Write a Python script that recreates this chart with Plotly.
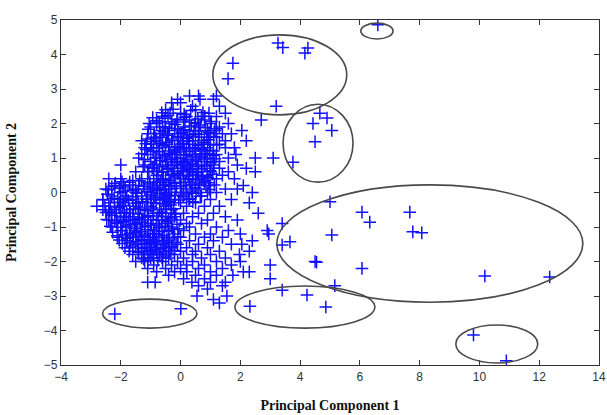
import plotly.graph_objects as go

# Main cluster: rows of (PC2 value, list of PC1 values)
cluster_rows = [
    (2.8, [0.3, 0.6, 1.2]),
    (2.7, [-0.1, 0.65, 1.1]),
    (2.6, [-0.3, 0.0]),
    (2.5, [0.4, 1.3, 3.2]),
    (2.4, [-0.5, 0.5]),
    (2.3, [-0.35, 0.0, 0.95, 1.5]),
    (2.2, [-0.6, 0.2, 0.7, 1.2]),
    (2.1, [-0.1, 0.3, 0.8, 2.7]),
    (2.0, [-0.8, -0.3, 0.5, 1.0, 1.6]),
    (1.9, [-1.0, -0.5, 0.1, 0.6, 1.3]),
    (1.8, [-0.7, -0.2, 0.3, 0.9, 1.15, 2.05]),
    (1.7, [-1.1, -0.4, 0.0, 0.5, 1.0, 1.4, 1.7]),
    (1.6, [-0.9, -0.6, -0.1, 0.2, 0.7, 1.2]),
    (1.5, [-1.3, -0.8, -0.3, 0.1, 0.4, 0.8, 1.5, 2.2]),
    (1.4, [-1.0, -0.5, 0.0, 0.3, 0.6, 1.0, 1.3]),
    (1.3, [-1.2, -0.7, -0.2, 0.2, 0.5, 0.9, 1.5, 1.8]),
    (1.2, [-0.9, -0.4, -0.1, 0.3, 0.7, 1.1]),
    (1.1, [-1.1, -0.6, -0.2, 0.1, 0.4, 0.8, 1.2, 1.85]),
    (1.0, [-1.4, -0.8, -0.3, 0.0, 0.5, 0.9, 1.6, 2.5, 3.1]),
    (0.9, [-1.0, -0.5, -0.1, 0.2, 0.6, 1.0, 1.3]),
    (0.8, [-2.0, -1.2, -0.7, -0.2, 0.1, 0.4, 0.8, 1.1, 1.9]),
    (0.7, [-0.9, -0.4, 0.0, 0.3, 0.7, 1.3, 2.2]),
    (0.6, [-1.5, -1.1, -0.6, -0.1, 0.2, 0.6, 1.0, 1.6, 2.5]),
    (0.5, [-0.8, -0.3, 0.1, 0.5, 0.9, 1.4]),
    (0.4, [-2.4, -2.0, -1.3, -0.9, -0.5, 0.0, 0.4, 0.7, 1.2, 1.8]),
    (0.3, [-1.7, -1.1, -0.6, -0.2, 0.3, 0.8]),
    (0.2, [-2.2, -1.9, -1.4, -0.8, -0.4, 0.1, 0.5, 1.0, 2.1]),
    (0.1, [-2.5, -1.6, -1.2, -0.7, -0.3, 0.2, 0.6, 1.5, 1.9]),
    (0.0, [-2.0, -1.5, -1.0, -0.5, 0.0, 0.4, 0.9, 1.2, 2.4]),
    (-0.1, [-2.3, -1.8, -1.3, -0.9, -0.4, 0.1, 0.7]),
    (-0.2, [-2.6, -2.1, -1.6, -1.1, -0.6, -0.2, 0.3, 1.0, 1.7]),
    (-0.3, [-1.9, -1.4, -0.9, -0.4, 0.0, 0.5, 2.3]),
    (-0.4, [-2.8, -2.4, -2.0, -1.5, -1.0, -0.5, 0.2, 0.8, 1.3]),
    (-0.5, [-2.6, -2.2, -1.7, -1.2, -0.7, -0.3]),
    (-0.6, [-2.3, -1.8, -1.4, -0.9, -0.5, 0.1, 0.6, 1.1, 2.6]),
    (-0.7, [-2.0, -1.6, -1.1, -0.6, -0.2, 0.4, 1.5]),
    (-0.8, [-2.4, -1.9, -1.3, -0.8, -0.4, 0.0, 0.9, 1.9]),
    (-0.9, [-2.1, -1.5, -1.0, -0.5, 0.2, 0.7, 3.4]),
    (-1.0, [-2.3, -1.8, -1.2, -0.7, -0.3, 0.3, 1.2]),
    (-1.1, [-2.0, -1.5, -0.9, -0.4, 0.1, 1.6, 2.9]),
    (-1.2, [-1.7, -1.3, -0.8, -0.2, 0.5, 1.0, 2.0, 2.95]),
    (-1.3, [-2.1, -1.6, -1.1, -0.6, 0.0, 0.8, 1.4]),
    (-1.4, [-1.8, -1.3, -0.9, -0.4, 0.3, 1.1, 2.4]),
    (-1.5, [-1.5, -1.0, -0.6, -0.1, 0.6, 1.7, 2.05]),
    (-1.6, [-1.7, -1.2, -0.8, -0.3, 0.2, 0.9]),
    (-1.7, [-1.4, -1.0, -0.5, 0.0, 0.5, 1.3, 2.3]),
    (-1.8, [-1.6, -1.1, -0.7, -0.2, 0.4, 1.0, 1.97]),
    (-1.9, [-1.3, -0.9, -0.4, 0.1, 0.7, 1.5]),
    (-2.0, [-1.5, -1.2, -0.6, -0.1, 0.4, 1.2, 2.0]),
    (-2.1, [-0.9, -0.3, 0.2, 0.8, 1.7, 3.0]),
    (-2.2, [-1.1, -0.5, 0.0, 0.6, 1.4]),
    (-2.3, [-0.8, -0.2, 0.21, 1.0, 2.1, 2.3]),
    (-2.4, [-0.4, 0.5, 1.2, 1.75]),
    (-2.5, [0.1, 0.8, 3.0]),
    (-2.6, [-1.1, -0.85, 0.38, 1.0, 1.5]),
    (-2.7, [0.6, 1.4]),
    (-2.8, [0.9]),
    (-3.0, [0.55, 1.55]),
    (-3.1, [1.1]),
    (-3.2, [1.3]),
]

# Dense upper core of the cluster (PC1, PC2)
upper_core = [
    (-0.93, 2.17), (-0.42, 2.23), (0.12, 2.27), (0.58, 2.13), (1.03, 2.06), (-0.71, 2.04),
    (-0.18, 1.97), (0.36, 1.93), (0.83, 1.88), (-1.08, 1.83), (-0.55, 1.77), (0.05, 1.74),
    (0.62, 1.69), (1.11, 1.62), (-0.83, 1.58), (-0.27, 1.55), (0.27, 1.49), (0.78, 1.44),
    (-1.16, 1.41), (-0.61, 1.36), (-0.05, 1.33), (0.47, 1.27), (0.97, 1.22), (-0.92, 1.19),
    (-0.36, 1.14), (0.18, 1.08), (0.69, 1.04), (1.15, 0.98), (-1.21, 0.96), (-0.67, 0.93),
    (-0.14, 0.87), (0.39, 0.83), (0.88, 0.77), (-0.95, 0.72), (-0.44, 0.67), (0.07, 0.63),
    (0.56, 0.58), (1.06, 0.53), (-0.75, 0.49), (-0.22, 0.45), (0.29, 0.38), (0.77, 0.34),
    (-1.02, 0.29), (-0.51, 0.24), (0.02, 0.19), (0.49, 0.14), (0.96, 0.09), (-0.79, 0.06),
    (-0.31, 0.01), (0.2, -0.04), (0.66, -0.11), (-0.57, -0.16), (-0.06, -0.22), (0.41, -0.27),
    (-0.63, 2.31), (-0.12, 2.12), (0.34, 2.38), (0.81, 2.21), (-0.38, 1.86), (0.15, 1.82),
    (0.66, 1.96), (-0.88, 1.71), (-0.07, 1.62), (0.42, 1.63), (0.93, 1.53), (-0.47, 1.46),
    (0.06, 1.41), (0.59, 1.36), (-1.0, 1.29), (-0.2, 1.24), (0.31, 1.19), (0.84, 1.13),
    (-0.54, 1.06), (-0.01, 1.01), (0.52, 0.94), (1.01, 0.86), (-0.87, 0.82), (-0.32, 0.78),
    (0.21, 0.74), (0.71, 0.68), (-0.62, 0.59), (-0.09, 0.54), (0.42, 0.51), (0.91, 0.44),
    (-0.35, 0.35), (0.16, 0.29), (0.63, 0.25), (-0.14, 0.12), (0.37, 0.04), (-0.48, -0.05),
    (0.09, -0.12), (-0.25, 0.61), (0.25, 0.95), (-0.72, 1.42),
    (-0.8, 2.09), (-0.25, 2.41), (0.48, 2.03), (0.95, 1.74), (-1.12, 1.55), (-0.44, 1.66),
    (0.22, 1.57), (0.71, 1.25), (-0.85, 1.0), (-0.28, 0.96), (0.33, 0.66), (0.8, 0.97),
    (-1.06, 0.61), (-0.58, 0.38), (-0.02, 0.41), (0.55, 0.39), (1.13, 0.22), (-0.93, 0.15),
    (-0.18, -0.09), (0.28, -0.18), (-0.67, 1.7), (0.11, 2.04), (-0.15, 1.17), (0.6, 1.78),
    (-0.39, 0.18), (1.21, 1.38), (0.99, 0.63), (-1.3, 1.12), (0.13, 0.86), (-0.52, 2.15),
    (-1.05, 2.0), (-0.6, 1.9), (-0.1, 1.85), (0.45, 1.78), (0.88, 1.6), (-0.98, 1.48),
    (-0.38, 1.32), (0.12, 1.27), (0.65, 1.12), (1.08, 1.08), (-1.15, 1.25), (-0.72, 1.18),
    (-0.45, 0.9), (0.05, 0.78), (0.58, 0.76), (1.12, 0.7), (-0.8, 0.62), (-0.3, 0.52),
    (0.25, 0.48), (0.74, 0.46), (-0.68, 0.33), (-0.2, 0.27), (0.35, 0.22), (0.85, 0.2),
    (-0.55, 0.08), (0.0, 0.0), (0.52, -0.02), (-0.35, -0.2), (0.15, 2.18), (0.75, 2.32),
    (-0.3, 2.05), (0.3, 1.68), (-0.8, 1.3), (0.4, 1.05), (-0.6, 0.75), (1.2, 1.85),
    (-1.25, 0.75), (0.95, 0.28),
]

# Dense lower-left core of the cluster (PC1, PC2)
lower_core = [
    (-2.18, 0.27), (-1.71, 0.22), (-1.24, 0.18), (-0.77, 0.13), (-2.41, 0.08), (-1.93, 0.03),
    (-1.46, -0.02), (-0.98, -0.07), (-0.5, -0.13), (-2.22, -0.17), (-1.74, -0.23), (-1.27, -0.27),
    (-0.81, -0.31), (-0.33, -0.36), (-2.53, -0.39), (-2.06, -0.44), (-1.58, -0.48), (-1.11, -0.53),
    (-0.64, -0.57), (-0.16, -0.62), (-2.31, -0.66), (-1.86, -0.71), (-1.38, -0.75), (-0.92, -0.79),
    (-0.44, -0.84), (-2.14, -0.88), (-1.67, -0.93), (-1.19, -0.97), (-0.73, -1.02), (-0.26, -1.06),
    (-1.95, -1.11), (-1.48, -1.15), (-1.01, -1.19), (-0.55, -1.24), (-0.09, -1.28), (-1.78, -1.33),
    (-1.31, -1.37), (-0.84, -1.42), (-0.37, -1.46), (-1.6, -1.55), (-1.14, -1.59), (-0.68, -1.63),
    (-0.21, -1.68), (-1.42, -1.74), (-0.95, -1.79), (-0.49, -1.84), (-1.23, -1.93), (-0.76, -1.97),
    (-1.96, 0.31), (-1.5, 0.09), (-1.03, 0.25), (-2.04, -0.28), (-1.61, -0.12), (-1.15, -0.19),
    (-0.69, -0.22), (-2.37, -0.55), (-1.88, -0.58), (-1.42, -0.62), (-0.95, -0.45), (-0.49, -0.48),
    (-2.2, -0.82), (-1.73, -0.81), (-1.27, -0.86), (-0.81, -0.91), (-0.33, -0.74), (-2.0, -1.01),
    (-1.55, -1.04), (-1.09, -1.08), (-0.62, -1.12), (-1.85, -1.23), (-1.39, -1.26), (-0.93, -1.3),
    (-0.46, -1.35), (-1.69, -1.45), (-1.22, -1.48), (-0.76, -1.51), (-0.29, -1.56), (-1.05, -1.69),
    (-0.58, -1.72), (-1.31, -1.62),
    (-2.3, 0.17), (-1.85, 0.16), (-1.37, 0.34), (-0.9, 0.07), (-2.6, -0.21), (-1.94, -0.38),
    (-1.47, -0.31), (-0.99, -0.29), (-0.56, -0.33), (-0.23, -0.47), (-2.47, -0.78), (-2.02, -0.69),
    (-1.56, -0.79), (-1.08, -0.67), (-0.62, -0.79), (-0.12, -0.92), (-2.27, -1.15), (-1.82, -0.97),
    (-1.33, -1.14), (-0.87, -1.2), (-0.4, -1.13), (-2.05, -1.38), (-1.58, -1.3), (-1.1, -1.36),
    (-0.62, -1.4), (-0.15, -1.45), (-1.86, -1.6), (-1.43, -1.5), (-0.97, -1.58), (-0.5, -1.6),
    (-1.21, -1.8), (-0.8, -1.75), (-0.35, -1.78), (-1.0, -1.9),
    (-2.05, 0.12), (-1.6, 0.05), (-1.12, 0.02), (-0.65, -0.03), (-2.35, -0.3), (-1.85, -0.18),
    (-1.35, -0.45), (-0.85, -0.15), (-0.42, -0.25), (-2.15, -0.6), (-1.68, -0.6), (-1.2, -0.72),
    (-0.75, -0.68), (-0.3, -0.6), (-2.35, -0.98), (-1.92, -0.85), (-1.45, -0.92), (-0.98, -0.95),
    (-0.52, -0.98), (-0.05, -1.05), (-2.12, -1.25), (-1.68, -1.18), (-1.2, -1.25), (-0.72, -1.3),
    (-0.25, -1.3), (-1.95, -1.48), (-1.5, -1.42), (-1.02, -1.46), (-0.55, -1.5), (-1.72, -1.7),
    (-1.3, -1.72), (-0.85, -1.65), (-0.4, -1.68), (-1.1, -1.98), (-0.62, -1.9), (-2.5, -0.58),
    (-2.45, -0.05), (-1.6, 0.35),
]

# Outlying observations (PC1, PC2)
outliers = [
    (3.26, 4.33), (3.42, 4.2), (4.16, 4.04), (4.26, 4.19), (1.75, 3.75), (1.59, 3.3),
    (6.6, 4.86),
    (4.43, 2.0), (4.66, 2.3), (4.9, 2.16), (5.06, 1.8), (4.5, 1.47), (3.76, 0.88),
    (5.0, -0.27), (6.07, -0.57), (6.33, -0.86), (5.06, -1.23), (4.5, -2.0), (4.55, -2.02),
    (6.07, -2.2), (5.16, -2.7), (3.66, -1.43), (3.4, -1.52),
    (7.67, -0.57), (7.77, -1.14), (8.07, -1.17), (10.18, -2.42), (12.35, -2.45),
    (9.8, -4.13), (10.9, -4.88),
    (2.32, -3.3), (4.23, -2.97), (4.86, -3.32), (3.4, -2.83),
    (-2.2, -3.52), (0.01, -3.37),
]

# Outlier group ellipses: (centre PC1, centre PC2, half-width, half-height)
group_ellipses = [
    (3.32, 3.41, 2.24, 1.16),
    (6.57, 4.68, 0.54, 0.23),
    (4.6, 1.43, 1.17, 1.13),
    (8.34, -1.48, 5.12, 1.70),
    (4.16, -3.32, 2.34, 0.61),
    (10.58, -4.39, 1.37, 0.55),
    (-1.03, -3.51, 1.58, 0.42),
]

x_ticks = [-4, -2, 0, 2, 4, 6, 8, 10, 12, 14]
y_ticks = [-5, -4, -3, -2, -1, 0, 1, 2, 3, 4, 5]

points = [(x, y) for y, xs in cluster_rows for x in xs] + upper_core + lower_core + outliers
pc1 = [p[0] for p in points]
pc2 = [p[1] for p in points]

fig = go.Figure()
fig.add_trace(go.Scatter(
    x=pc1, y=pc2, mode="markers",
    marker=dict(symbol="cross-thin", size=9, line=dict(color="#1010ff", width=1.5)),
    showlegend=False, hoverinfo="skip",
))

for cx, cy, rx, ry in group_ellipses:
    fig.add_shape(type="circle", xref="x", yref="y",
                  x0=cx - rx, x1=cx + rx, y0=cy - ry, y1=cy + ry,
                  line=dict(color="#4a4a4a", width=1.6))

title_font = dict(family="Liberation Serif, Times New Roman", size=14, color="#111111", weight="bold")
axis_common = dict(
    showgrid=False, zeroline=False, showline=True, linecolor="#333333", linewidth=1.2,
    mirror="ticks", ticks="inside", ticklen=5, tickwidth=1.2, tickcolor="#333333",
    tickfont=dict(family="Liberation Sans, Arial", size=12, color="#333333"),
    automargin=False,
)
fig.update_xaxes(range=[-4, 14], tickvals=x_ticks,
                 title=dict(text="Principal Component 1", standoff=17, font=title_font),
                 **axis_common)
fig.update_yaxes(range=[-5, 5], tickvals=y_ticks,
                 title=dict(text="Principal Component 2", standoff=23, font=title_font),
                 **axis_common)
fig.update_layout(
    width=607, height=415,
    margin=dict(l=61, r=8, t=20, b=50),
    paper_bgcolor="white", plot_bgcolor="white",
)

fig.write_html("out.html", config={"displayModeBar": False},
               post_script="document.body.style.margin='0';document.body.style.overflow='hidden';")
